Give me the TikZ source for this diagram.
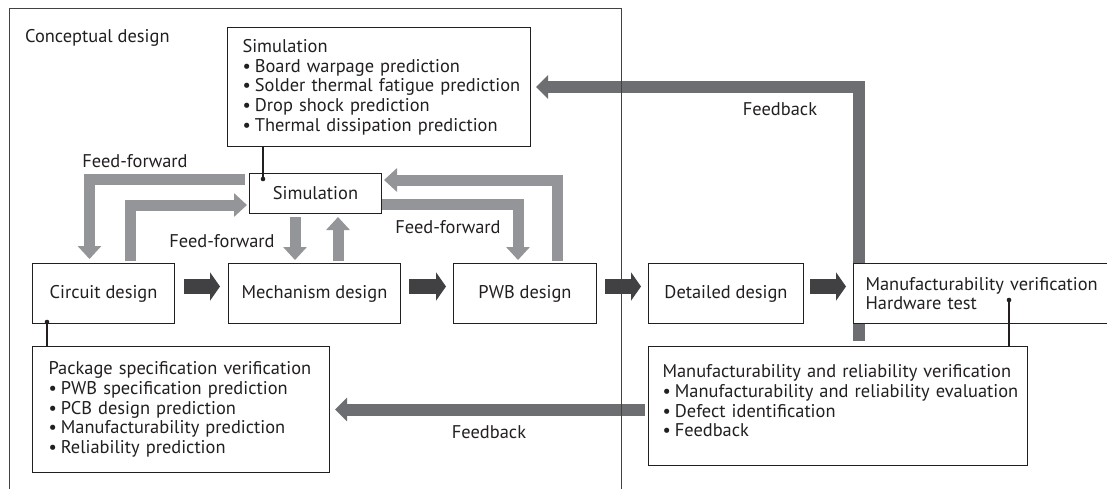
\documentclass[tikz,border=0pt]{standalone}
\usepackage{fontspec}
\setmainfont{PT Sans}
\usetikzlibrary{arrows.meta}
\definecolor{ink}{HTML}{231F20}
\definecolor{fflight}{HTML}{939598}
\definecolor{fbgray}{HTML}{6D6E71}
\definecolor{flowdark}{HTML}{414042}
% one unbreakable line of a box, optionally with a bullet
\newcommand\itm[1]{\mbox{\textbullet\hspace{0.22em}#1}}
\newcommand\plain[1]{\mbox{#1}}
\pgfdeclarelayer{back}
\pgfsetlayers{back,main}
\begin{document}
\begin{tikzpicture}[x=1pt,y=-1pt,
  font=\fontsize{18.4}{19.7}\selectfont, text=ink,
  box/.style={draw=ink, line width=1pt, fill=white, inner sep=0pt,
    minimum height=60, anchor=north west},
  listbox/.style={box, align=left, inner ysep=0pt},
  ffarrow/.style={draw=fflight, line width=11pt, line join=miter,
    -{Triangle[length=13pt,width=23pt]}},
  fbarrow/.style={draw=fbgray, line width=12pt, line join=miter,
    -{Triangle[length=12pt,width=23pt]}},
  flowarrow/.style={draw=flowdark, line width=15pt,
    -{Triangle[length=10pt,width=28pt]}},
  link/.style={draw=ink, line width=1.3pt},
  frameline/.style={draw=ink!85, line width=0.9pt},
  lbl/.style={inner sep=0pt}
]
\useasboundingbox (0,0) rectangle (1107,488);
\clip (0,0) rectangle (1107,488);

% ---- process boxes ----
\node[box, minimum width=142] (circuit) at (32,263) {Circuit design};
\node[box, minimum width=172] (mech)    at (228,263) {Mechanism design};
\node[box, minimum width=143] (pwb)     at (453,263) {PWB design};
\node[box, minimum width=155] (detail)  at (648,263) {Detailed design};
\node[box, minimum width=132, minimum height=40] (sim) at (249,173) {Simulation};
\node[listbox, minimum width=303, minimum height=119, text width=273, inner xsep=15] (simtop) at (227,27)
  {\plain{Simulation}\\\itm{Board warpage prediction}\\\itm{Solder thermal fatigue prediction}\\\itm{Drop shock prediction}\\\itm{Thermal dissipation prediction}};
\node[listbox, minimum width=297, minimum height=126, text width=265, inner xsep=16] (pkg) at (32,346)
  {\plain{Package specification verification}\\\itm{PWB specification prediction}\\\itm{PCB design prediction}\\\itm{Manufacturability prediction}\\\itm{Reliability prediction}};
\node[listbox, minimum width=379, minimum height=119, text width=351, inner xsep=14] (rbox) at (648,346)
  {\plain{Manufacturability and reliability verification}\\\itm{Manufacturability and reliability evaluation}\\\itm{Defect identification}\\\itm{Feedback}\par\vspace*{10pt}};
\node[listbox, minimum width=280, minimum height=60, text width=256, inner xsep=12] (manuf) at (853,263)
  {\plain{Manufacturability verification}\\\plain{Hardware test}};

\begin{pgfonlayer}{back}
  % ---- feed-forward loops around the simulation step ----
  \draw[ffarrow] ([shift={(-4,6.5)}]sim.north west) -| ([shift={(-14,-4)}]circuit.north);
  \draw[ffarrow] ([shift={(26.5,-2)}]circuit.north) |- ([shift={(-2,32)}]sim.north west);
  \draw[ffarrow] ([shift={(-20.5,3)}]sim.south) -- ([shift={(-19.5,-3)}]mech.north);
  \draw[ffarrow] ([shift={(23.5,-2)}]mech.north) -- ([shift={(22.5,3)}]sim.south);
  \draw[ffarrow] ([shift={(32.5,-2)}]pwb.north) |- ([shift={(2,7)}]sim.north east);
  \draw[ffarrow] ([shift={(0,31)}]sim.north east) -| ([shift={(-7,-3)}]pwb.north);

  % ---- main design flow ----
  \draw[flowarrow] ([shift={(9,-7)}]circuit.east) -- ([shift={(-8,-7)}]mech.west);
  \draw[flowarrow] ([shift={(8,-7)}]mech.east) -- ([shift={(-7,-7)}]pwb.west);
  \draw[flowarrow] ([shift={(8,-7)}]pwb.east) -- ([shift={(-7,-7)}]detail.west);
  \draw[flowarrow] ([shift={(6,-7)}]detail.east) -- ([shift={(-7,-7)}]manuf.west);

  % ---- feedback paths ----
  \coordinate (fbstart) at ([shift={(5.5,17)}]manuf.south west);
  \draw[fbarrow] (fbstart) |- ([xshift=5pt]simtop.east);
  \draw[fbarrow] ([xshift=-3pt]rbox.west |- pkg.east) -- ([xshift=5pt]pkg.east);

  % ---- conceptual design frame ----
  \draw[frameline] (9,500) -- (9,8) -- (621,8) -- (621,500);
\end{pgfonlayer}

% ---- callout links with dots ----
\coordinate (simdot) at ([shift={(14,6)}]sim.north west);
\draw[link] (simdot |- simtop.south) -- (simdot);
\fill[ink] (simdot) circle[radius=2.3pt];
\coordinate (cirdot) at ([shift={(15,-2)}]circuit.south west);
\draw[link] (cirdot |- pkg.north) -- (cirdot);
\fill[ink] (cirdot) circle[radius=2.3pt];
\coordinate (mfgdot) at ([shift={(156,-24)}]manuf.south west);
\draw[link] (mfgdot |- rbox.north) -- (mfgdot);
\fill[ink] (mfgdot) circle[radius=2.3pt];

% ---- labels ----
\node[lbl, anchor=west] (cdlabel) at (25,38) {Conceptual design};
\node[lbl] (ffa) at (135,161) {Feed-forward};
\node[lbl] (ffb) at (222,241) {Feed-forward};
\node[lbl] (ffc) at (448,227) {Feed-forward};
\node[lbl] (fba) at (780,109) {Feedback};
\node[lbl] (fbb) at (489,432) {Feedback};
\end{tikzpicture}
\end{document}
